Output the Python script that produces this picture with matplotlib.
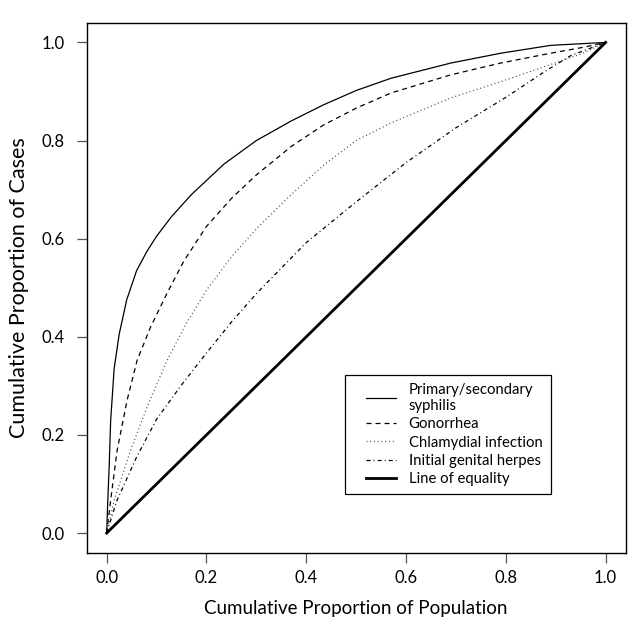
"""
lorenz.py — 성병별 누적 비율 (Lorenz curve) 재현
값은 그림에서 눈으로 읽은 값.
"""
import matplotlib
matplotlib.use("Agg")
import matplotlib.pyplot as plt
from matplotlib.lines import Line2D
from matplotlib.legend_handler import HandlerLine2D

# 1차 매독
X_SYPH = [0.0, 0.002, 0.005, 0.008, 0.015, 0.025, 0.04, 0.06, 0.08, 0.10, 0.13, 0.17,
          0.235, 0.30, 0.37, 0.435, 0.50, 0.57, 0.69, 0.79, 0.89, 1.0]
Y_SYPH = [0.0, 0.06, 0.135, 0.23, 0.335, 0.405, 0.475, 0.535, 0.573, 0.605, 0.645, 0.69,
          0.752, 0.80, 0.84, 0.873, 0.902, 0.927, 0.958, 0.978, 0.994, 1.0]
# 임질
X_GONO = [0.0, 0.008, 0.021, 0.041, 0.061, 0.088, 0.121, 0.155, 0.20, 0.25, 0.30,
          0.37, 0.435, 0.50, 0.57, 0.69, 0.79, 0.89, 0.955, 1.0]
Y_GONO = [0.0, 0.067, 0.169, 0.271, 0.352, 0.42, 0.489, 0.555, 0.625, 0.682, 0.73,
          0.788, 0.832, 0.866, 0.897, 0.934, 0.958, 0.978, 0.99, 1.0]
# 클라미디아
X_CHLA = [0.0, 0.015, 0.048, 0.081, 0.121, 0.16, 0.20, 0.25, 0.30, 0.37, 0.435,
          0.50, 0.57, 0.69, 0.79, 0.89, 0.955, 1.0]
Y_CHLA = [0.0, 0.067, 0.169, 0.257, 0.352, 0.428, 0.495, 0.563, 0.62, 0.69, 0.75,
          0.80, 0.836, 0.887, 0.92, 0.955, 0.978, 1.0]
# 생식기 헤르페스
X_HERP = [0.0, 0.02, 0.06, 0.10, 0.15, 0.20, 0.25, 0.30, 0.40, 0.50, 0.60, 0.70,
          0.80, 0.88, 0.93, 1.0]
Y_HERP = [0.0, 0.065, 0.155, 0.232, 0.302, 0.367, 0.43, 0.488, 0.592, 0.675, 0.755,
          0.826, 0.888, 0.942, 0.973, 1.0]
# 평등선
X_EQ = [0.0, 1.0]
Y_EQ = [0.0, 1.0]

LABELS = ["Primary/secondary\nsyphilis", "Gonorrhea", "Chlamydial infection",
          "Initial genital herpes", "Line of equality"]
TICKS = [0.0, 0.2, 0.4, 0.6, 0.8, 1.0]


def _plot():
    plt.rcParams["font.family"] = ["Lato", "DejaVu Sans"]
    plt.rcParams["lines.scale_dashes"] = False
    fig = plt.figure(figsize=(6.4, 6.4), dpi=100)
    ax = fig.add_axes([0.1355, 0.1364, 0.842, 0.828])

    styles = [
        dict(color="black", lw=0.9, ls="-"),
        dict(color="black", lw=0.9, ls=(0, (3.6, 2.9))),
        dict(color="#444444", lw=0.9, ls=(0, (0.7, 2.0))),
        dict(color="black", lw=0.9, ls=(0, (2.9, 2.2, 0.7, 2.2))),
        dict(color="black", lw=2.0, ls="-"),
    ]
    data = [(X_SYPH, Y_SYPH), (X_GONO, Y_GONO), (X_CHLA, Y_CHLA),
            (X_HERP, Y_HERP), (X_EQ, Y_EQ)]
    handles = []
    for (xs, ys), st, lab in zip(data, styles, LABELS):
        ln, = ax.plot(xs, ys, label=lab, **st)
        handles.append(ln)

    ax.set_xlim(-0.04, 1.04); ax.set_ylim(-0.04, 1.04)
    ax.set_xticks(TICKS); ax.set_yticks(TICKS)
    ax.set_xticklabels([f"{t:.1f}" for t in TICKS])
    ax.set_yticklabels([f"{t:.1f}" for t in TICKS])
    ax.tick_params(axis="both", direction="out", length=7.2, width=0.9,
                   color="#555555", labelsize=12)
    ax.tick_params(axis="x", pad=5)
    ax.tick_params(axis="y", pad=8.5)
    for sp in ax.spines.values():
        sp.set_linewidth(1.0)
    ax.set_xlabel("Cumulative Proportion of Population", fontsize=13.5, labelpad=10)
    ax.set_ylabel("Cumulative Proportion of Cases", fontsize=15.5, labelpad=9)

    leg = ax.legend(handles=handles, loc="upper left", bbox_to_anchor=(0.479, 0.3355),
                    borderaxespad=0, fontsize=10.7, handlelength=2.9, handletextpad=0.85,
                    borderpad=0.55, labelspacing=0.28, fancybox=False,
                    edgecolor="black", framealpha=1,
                    handler_map={Line2D: HandlerLine2D(xpad=0.9)})
    leg.get_frame().set_linewidth(0.9)

    fig.savefig("out.png", dpi=100)
    plt.close(fig)


if __name__ == "__main__":
    _plot()
